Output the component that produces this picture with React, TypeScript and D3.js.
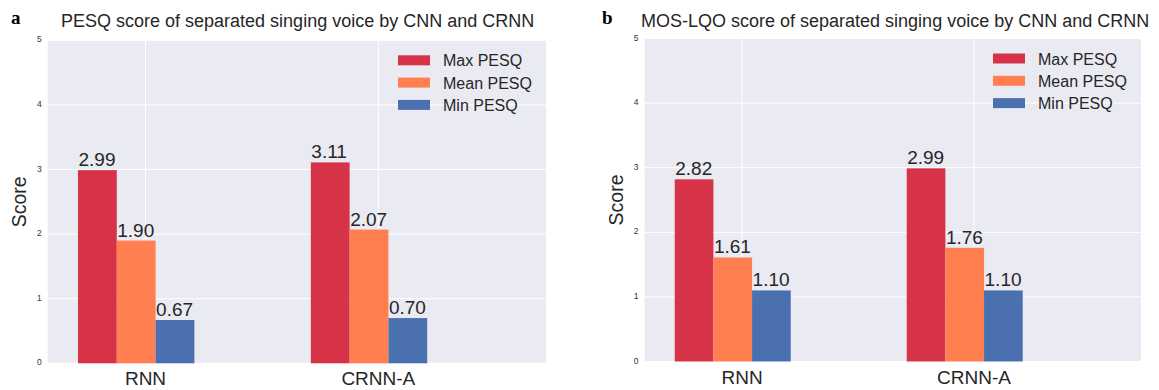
import React from "react";
import * as d3 from "d3";

const categories = ["RNN", "CRNN-A"];
const seriesNames = ["Max PESQ", "Mean PESQ", "Min PESQ"];
const seriesColors = ["#D63349", "#FF7F50", "#4A70B0"];

const pesqMax = [2.99, 3.11];
const pesqMean = [1.9, 2.07];
const pesqMin = [0.67, 0.7];

const mosMax = [2.82, 2.99];
const mosMean = [1.61, 1.76];
const mosMin = [1.1, 1.1];

const yTicks = [0, 1, 2, 3, 4, 5];

const FONT = "'Liberation Sans', Arial, Helvetica, sans-serif";

type PanelProps = {
  letter: string;
  letterX: number;
  title: string;
  titleX: number;
  left: number;
  right: number;
  top: number;
  bottom: number;
  series: number[][];
};

function Panel({ letter, letterX, title, titleX, left, right, top, bottom, series }: PanelProps) {
  const x = d3.scaleLinear().domain([-0.42, 1.72]).range([left, right]);
  const y = d3.scaleLinear().domain([0, 5]).range([bottom, top]);
  const barW = 0.5 / 3;
  const groupStart = -0.29;
  const legX = right - 148;
  const legY = top + 15;
  return (
    <g>
      <text x={letterX} y={24} fontFamily="'Liberation Serif', 'Times New Roman', serif" fontWeight="bold" fontSize={19} fill="#000">
        {letter}
      </text>
      <text x={titleX} y={27} fontFamily={FONT} fontSize={18} fill="#262626">
        {title}
      </text>
      <rect x={left} y={top} width={right - left} height={bottom - top} fill="#EAEAF2" />
      {yTicks.map((t) => (
        <line key={"gy" + t} x1={left} x2={right} y1={y(t)} y2={y(t)} stroke="#fff" strokeWidth={1} />
      ))}
      {categories.map((c, i) => (
        <line key={"gx" + c} x1={x(i)} x2={x(i)} y1={top} y2={bottom} stroke="#fff" strokeWidth={1} />
      ))}
      {series.map((vals, s) =>
        vals.map((v, i) => {
          const x0 = x(i + groupStart + s * barW);
          const x1 = x(i + groupStart + (s + 1) * barW);
          return (
            <g key={"b" + s + "-" + i}>
              <rect x={x0} y={y(v)} width={x1 - x0} height={y(0) - y(v)} fill={seriesColors[s]} />
              <text x={x0 + 0.5} y={y(v) - 4} fontFamily={FONT} fontSize={19} fill="#262626">
                {v.toFixed(2)}
              </text>
            </g>
          );
        })
      )}
      {yTicks.map((t) => (
        <text key={"yt" + t} x={left - 6} y={y(t) + 2} textAnchor="end" fontFamily={FONT} fontSize={8.5} fill="#333">
          {t}
        </text>
      ))}
      {categories.map((c, i) => (
        <text key={"xt" + c} x={x(i)} y={bottom + 22} textAnchor="middle" fontFamily={FONT} fontSize={19} fill="#262626">
          {c}
        </text>
      ))}
      <text
        transform={`translate(${left - 22},${(top + bottom) / 2}) rotate(-90)`}
        textAnchor="middle"
        fontFamily={FONT}
        fontSize={19.5}
        fill="#262626"
      >
        Score
      </text>
      {seriesNames.map((n, s) => (
        <g key={"lg" + s}>
          <rect x={legX} y={legY + s * 22.3} width={32} height={10} fill={seriesColors[s]} />
          <text x={legX + 45} y={legY + s * 22.3 + 11} fontFamily={FONT} fontSize={16} fill="#262626">
            {n}
          </text>
        </g>
      ))}
    </g>
  );
}

export default function App() {
  return (
    <div style={{ position: "absolute", left: 0, top: 0 }}>
      <svg width={1159} height={390} style={{ display: "block", background: "#fff" }}>
        <Panel
          letter="a"
          letterX={11}
          title="PESQ score of separated singing voice by CNN and CRNN"
          titleX={61}
          left={47.7}
          right={546}
          top={40.3}
          bottom={363.3}
          series={[pesqMax, pesqMean, pesqMin]}
        />
        <Panel
          letter="b"
          letterX={602}
          title="MOS-LQO score of separated singing voice by CNN and CRNN"
          titleX={641}
          left={644.6}
          right={1141}
          top={38.5}
          bottom={361.5}
          series={[mosMax, mosMean, mosMin]}
        />
      </svg>
    </div>
  );
}
